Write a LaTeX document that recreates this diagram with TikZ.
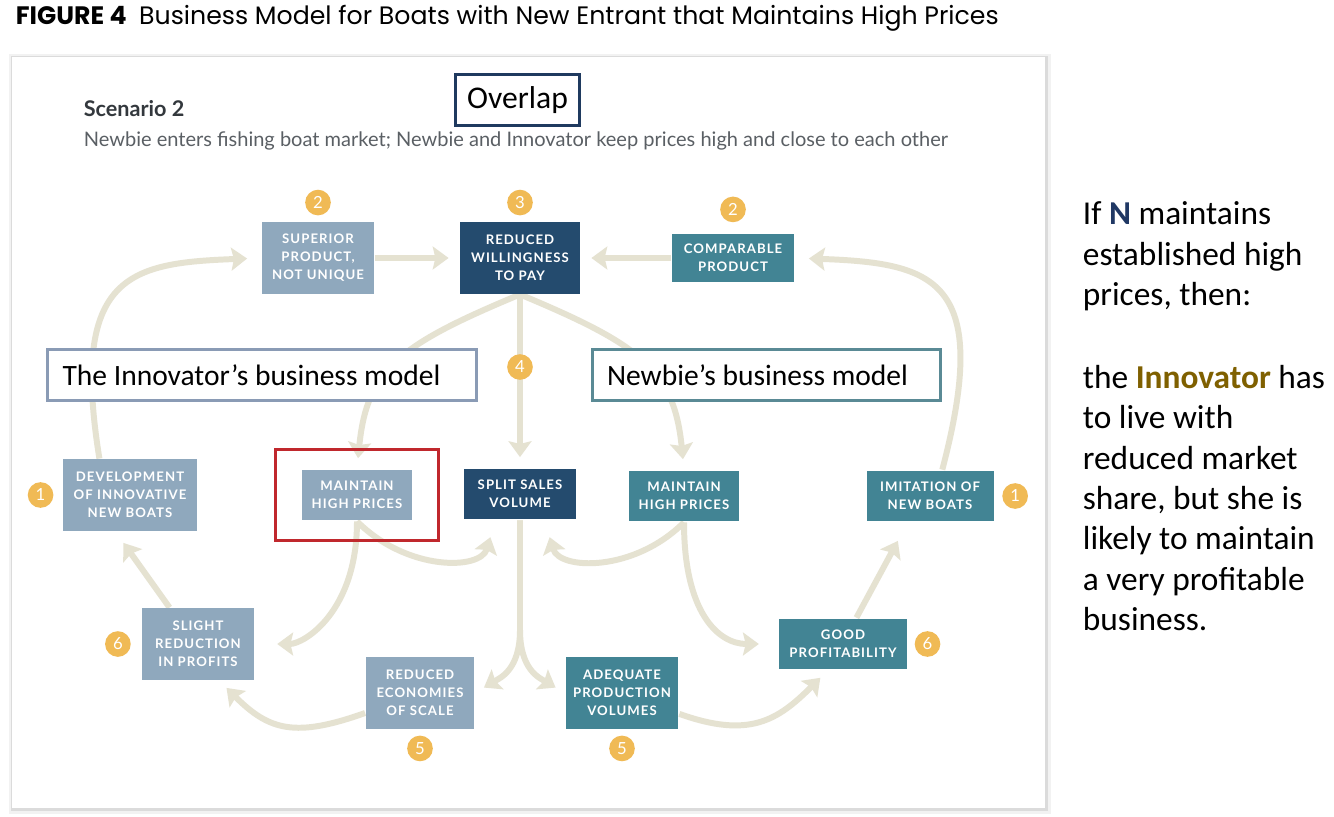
\documentclass[tikz,border=0pt]{standalone}
\usepackage{fontspec}
\setmainfont{Lato}
\newfontfamily\boxfont[LetterSpace=8]{Lato}
\newfontfamily\calfont{Carlito}
\newfontfamily\headfont{Poppins}
\usetikzlibrary{arrows.meta, positioning, calc, fit, backgrounds}
\definecolor{clight}{HTML}{8FA8BD}
\definecolor{cnavy}{HTML}{244B6E}
\definecolor{cteal}{HTML}{428494}
\definecolor{cbadge}{HTML}{F0BA55}
\definecolor{cflow}{HTML}{E5E2D1}
\definecolor{cred}{HTML}{C0282D}
\definecolor{cinno}{HTML}{8A9BB5}
\definecolor{cnew}{HTML}{5A8A95}
\definecolor{cover}{HTML}{1F3A5F}
\definecolor{cN}{HTML}{203864}
\definecolor{cgold}{HTML}{7F6000}
\definecolor{cdark}{HTML}{33383D}
\definecolor{csub}{HTML}{5A5F64}
\tikzset{
  every picture/.style={line width=1pt},
  blk/.style={fill=#1, text=white, font=\boxfont\bfseries\fontsize{7.5}{10.2}\selectfont, align=center, inner sep=0pt},
  tall/.style={minimum height=40.5pt},
  short/.style={minimum height=29pt},
  num/.style={circle, fill=cbadge, text=white, font=\fontsize{9.5}{9.5}\selectfont, inner sep=0pt, minimum size=14.6pt},
  flow/.style={-{Stealth[length=9pt, width=13pt, inset=1.5pt]}, draw=cflow, line width=3.4pt, shorten >=6pt},
  lbl/.style={draw=#1, fill=white, line width=1.7pt, font=\calfont\fontsize{16.8}{20}\selectfont, inner sep=0pt, minimum height=28.5pt},
}

\begin{document}
\begin{tikzpicture}[x=0.02cm, y=-0.02cm]
  \useasboundingbox (0,0) rectangle (1334,817);
  \begin{scope}[on background layer]
    \fill[white] (0,0) rectangle (1334,817);
    \fill[black!5] (9,54) rectangle (1051,814);
    \fill[black!14] (11,56) rectangle (1048,811);
    \fill[white] (12,57) rectangle (1045,808);
  \end{scope}

  % headings
  \node[anchor=west, inner sep=0pt, font=\headfont\fontsize{14.35}{16}\selectfont] (fig) at (15,18) {\textbf{FIGURE 4}\enspace Business Model for Boats with New Entrant that Maintains High Prices};
  \node[anchor=base west, inner sep=0pt, text=cdark, font=\bfseries\fontsize{12.3}{13}\selectfont] (scen) at (83,117) {Scenario 2};
  \node[anchor=base west, inner sep=0pt, text=csub, font=\fontsize{11.4}{13}\selectfont] (sub) at (83,147) {Newbie enters fishing boat market; Newbie and Innovator keep prices high and close to each other};

  % boxes of the loop
  \node[blk=clight, tall, minimum width=63.7pt] (sup) at (318,258) {SUPERIOR\\PRODUCT,\\NOT UNIQUE};
  \node[blk=cnavy, tall, minimum width=68.3pt] (rwp) at (520,258) {REDUCED\\WILLINGNESS\\TO PAY};
  \node[blk=cteal, minimum width=69.4pt, minimum height=27.3pt] (comp) at (733,258) {COMPARABLE\\PRODUCT};
  \node[blk=clight, tall, minimum width=76.2pt] (dev) at (130,495) {DEVELOPMENT\\OF INNOVATIVE\\NEW BOATS};
  \node[blk=clight, short, minimum width=62.6pt] (lmhp) at (357,495) {MAINTAIN\\HIGH PRICES};
  \node[blk=cnavy, short, minimum width=63.7pt] (split) at (520,494) {SPLIT SALES\\VOLUME};
  \node[blk=cteal, short, minimum width=62.6pt] (rmhp) at (684,496) {MAINTAIN\\HIGH PRICES};
  \node[blk=cteal, short, minimum width=72.3pt] (imit) at (930,496) {IMITATION OF\\NEW BOATS};
  \node[blk=clight, tall, minimum width=63.2pt] (slight) at (198,644) {SLIGHT\\REDUCTION\\IN PROFITS};
  \node[blk=clight, tall, minimum width=61.5pt] (econ) at (420,693) {REDUCED\\ECONOMIES\\OF SCALE};
  \node[blk=cteal, tall, minimum width=64.3pt] (adeq) at (622,693) {ADEQUATE\\PRODUCTION\\VOLUMES};
  \node[blk=cteal, short, minimum width=72.8pt] (good) at (843,644) {GOOD\\PROFITABILITY};

  % step numbers
  \node[num, above=3pt of sup] (b2l) {2};
  \node[num, above=3pt of rwp] (b3) {3};
  \node[num, above=5.7pt of comp] (b2r) {2};
  \node[num, left=4.5pt of dev] (b1l) {1};
  \node[num, right=4pt of imit] (b1r) {1};
  \node[num, left=5.7pt of slight] (b6l) {6};
  \node[num, right=3.4pt of good] (b6r) {6};
  \node[num, below=3pt of econ] (b5l) {5};
  \node[num, below=3pt of adeq] (b5r) {5};
  \coordinate (fork) at (520,630);

  \begin{scope}[on background layer]
    \draw[flow] (sup) -- (rwp);
    \draw[flow] (comp) -- (rwp);
    \draw[flow] (rwp) -- (split);
    \draw[flow, shorten >=8pt] (dev.130) .. controls +(-30,-185) and +(-130,5) .. (sup.west);
    \draw[flow, shorten >=8pt] (imit.65) .. controls +(50,-190) and +(140,5) .. (comp.east);
    \draw[flow] (rwp.south) .. controls +(-120,50) and +(10,-100) .. (lmhp.north);
    \draw[flow] (rwp.south) .. controls +(120,50) and +(-10,-100) .. (rmhp.north);
    \draw[flow, shorten >=13pt] (lmhp.south) .. controls +(0,90) and +(50,0) .. (slight.east);
    \draw[flow, shorten >=10pt] (lmhp.south) .. controls +(50,50) and +(-15,50) .. (split.-133);
    \draw[flow, shorten >=10pt] (rmhp.south) .. controls +(-50,50) and +(15,50) .. (split.-47);
    \draw[flow, shorten >=11pt] (rmhp.south) .. controls +(0,90) and +(-60,0) .. (good.west);
    \draw[flow] (split.south) -- (fork) .. controls +(0,40) and +(25,-15) .. (econ.east);
    \draw[flow] (split.south) -- (fork) .. controls +(0,40) and +(-25,-15) .. (adeq.west);
    \draw[flow] (econ.200) .. controls +(-70,25) and +(50,50) .. (slight.-60);
    \draw[flow] (adeq.-20) .. controls +(70,25) and +(-50,50) .. (good.-120);
    \draw[flow, shorten >=8pt] (slight.128) -- (dev.-112);
    \draw[flow, shorten >=12pt] (good.63) -- (imit.-130);
  \end{scope}
  \node[num] (b4) at (520,367) {4};

  % annotations
  \node[draw=cred, line width=1.7pt, fit=(lmhp), inner xsep=14.8pt, inner ysep=11pt] (focus) {};
  \node[lbl=cover, minimum width=71pt, font=\calfont\fontsize{18}{22}\selectfont] (ovl) at (517.5,100) {Overlap};
  \node[lbl=cinno, text width=227pt, inner xsep=8.5pt, align=flush left] (inno) at (262,375) {The Innovator’s business model};
  \node[lbl=cnew, text width=181.5pt, inner xsep=8.5pt, align=flush left] (newb) at (766.5,375) {Newbie’s business model};

  \node[anchor=north west, align=flush left, inner sep=0pt, font=\calfont\fontsize{19}{23}\selectfont] (story) at (1082,201)
    {If \textbf{\color{cN}N} maintains\\established high\\prices, then:\\[24pt]the \textbf{\color{cgold}Innovator} has\\to live with\\reduced market\\share, but she is\\likely to maintain\\a very profitable\\business.};
\end{tikzpicture}
\end{document}
